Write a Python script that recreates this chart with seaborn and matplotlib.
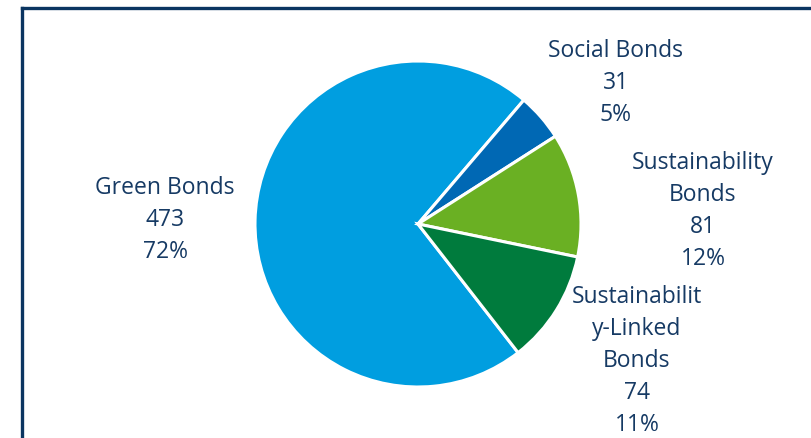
import matplotlib
matplotlib.use("Agg")
import matplotlib.pyplot as plt
from matplotlib.lines import Line2D
import seaborn as sns

# Bond issuance by type
categories = ["Green Bonds", "Social Bonds", "Sustainability\nBonds", "Sustainabilit\ny-Linked\nBonds"]
counts = [473, 31, 81, 74]
colors = ["#009ee0", "#0068b4", "#6ab023", "#007b3d"]

sns.set_theme(style="white")
plt.rcParams["font.family"] = ["Open Sans", "DejaVu Sans"]

W, H, DPI = 812, 439, 100
fig = plt.figure(figsize=(W / DPI, H / DPI), dpi=DPI)
ax = fig.add_axes([0, 0, 1, 1])

# pie centre and radius in pixels
cx, cy, r = 418, 225, 163

total = sum(counts)
start = 49.5 + 360 * counts[0] / total
ax.pie(counts, colors=colors, startangle=start, counterclock=False, radius=1,
       wedgeprops=dict(edgecolor="white", linewidth=2.2))

ax.set_xlim(-cx / r, (W - cx) / r)
ax.set_ylim(-(H - cy) / r, cy / r)
ax.set_aspect("equal", adjustable="datalim")
ax.axis("off")

# label anchor positions (pixel centres)
label_pos = [(165, 220), (616, 83), (703, 211), (637, 361)]
text_color = "#163a64"
for name, n, (px, py) in zip(categories, counts, label_pos):
    pct = round(100 * n / total)
    ax.text((px - cx) / r, (cy - py) / r, f"{name}\n{n}\n{pct}%",
            ha="center", va="center", multialignment="center",
            fontsize=16.5, color=text_color, linespacing=1.44)

# frame (top and left edges)
fx, fy = 22.5 / W, 1 - 8.5 / H
fig.add_artist(Line2D([fx, fx], [-0.05, fy], transform=fig.transFigure,
                      color="#0b3561", lw=2.4, solid_capstyle="projecting"))
fig.add_artist(Line2D([fx, 1.05], [fy, fy], transform=fig.transFigure,
                      color="#0b3561", lw=2.4, solid_capstyle="projecting"))

fig.savefig("out.png", dpi=DPI, facecolor="white")
